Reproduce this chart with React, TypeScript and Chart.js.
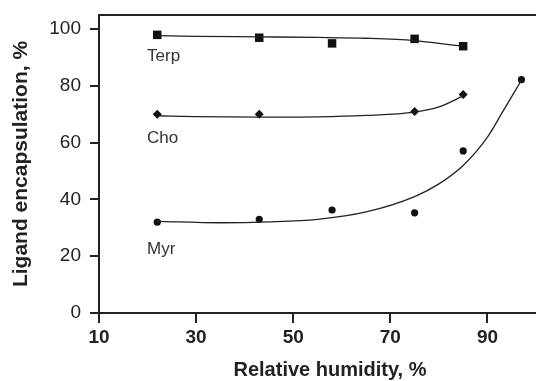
import React, { useEffect, useRef } from "react";
import { Chart, registerables } from "chart.js";

Chart.register(...registerables);

// Measured points
const terpX = [22, 43, 58, 75, 85];
const terpY = [98, 97, 95, 96.6, 94];
const choX = [22, 43, 75, 85];
const choY = [70, 70, 71, 77];
const myrX = [22, 43, 58, 75, 85, 97];
const myrY = [32, 33, 36.3, 35.3, 57.1, 82.2];

// Fitted curves
const terpFitX = [22, 30, 43, 55, 65, 75, 80, 85];
const terpFitY = [97.7, 97.5, 97.3, 97.1, 96.8, 96.0, 95.0, 94.0];
const choFitX = [22, 30, 43, 55, 65, 75, 80, 85];
const choFitY = [69.5, 69.2, 69.0, 69.1, 69.6, 70.8, 72.6, 76.5];
const myrFitX = [22, 35, 45, 55, 65, 75, 80, 85, 90, 93, 97];
const myrFitY = [32.3, 31.8, 32.1, 33, 35.6, 41, 45.5, 52, 62, 70.5, 82];

const xTicks = [10, 30, 50, 70, 90];
const yTicks = [0, 20, 40, 60, 80, 100];

const seriesNames = ["Terp", "Cho", "Myr"];
const nameAnchorX = [19.9, 19.9, 19.9];
const nameAnchorY = [90.5, 61.4, 22.4];

const xTitle = "Relative humidity, %";
const yTitle = "Ligand encapsulation, %";

const FONT = "'Liberation Sans', Arial, sans-serif";
const INK = "#222";

const zip = (xs: number[], ys: number[]) => xs.map((x, i) => ({ x, y: ys[i] }));

const framePlugin = {
  id: "frameAndNames",
  afterDraw(chart: any) {
    const { ctx, chartArea, scales } = chart;
    ctx.save();
    ctx.strokeStyle = INK;
    ctx.lineWidth = 2;
    ctx.beginPath();
    ctx.moveTo(chartArea.left - 1, chartArea.top);
    ctx.lineTo(chart.width, chartArea.top);
    ctx.stroke();
    ctx.fillStyle = "#333";
    ctx.font = `17px ${FONT}`;
    ctx.textAlign = "left";
    ctx.textBaseline = "middle";
    seriesNames.forEach((n, i) => {
      ctx.fillText(n, scales.x.getPixelForValue(nameAnchorX[i]), scales.y.getPixelForValue(nameAnchorY[i]));
    });
    ctx.fillStyle = INK;
    ctx.font = `bold 20px ${FONT}`;
    ctx.textAlign = "center";
    ctx.fillText(xTitle, 330, 370);
    ctx.restore();
  },
};

const zeroPad = (s: any) => {
  s.paddingTop = 0;
  s.paddingBottom = 0;
  s.paddingLeft = 0;
  s.paddingRight = 0;
};

export default function App() {
  const ref = useRef<HTMLCanvasElement>(null);
  useEffect(() => {
    document.body.style.margin = "0";
    document.body.style.overflow = "hidden";
    if (!ref.current) return;
    const lineDs = (xs: number[], ys: number[]) => ({
      type: "line" as const,
      data: zip(xs, ys),
      borderColor: INK,
      borderWidth: 1.3,
      pointRadius: 0,
      showLine: true,
      tension: 0.4,
      cubicInterpolationMode: "monotone" as const,
      fill: false,
    });
    const ptDs = (xs: number[], ys: number[], style: string, r: number) => ({
      type: "scatter" as const,
      data: zip(xs, ys),
      pointStyle: style,
      pointRadius: r,
      backgroundColor: "#111",
      borderColor: "#111",
      borderWidth: 0,
    });
    const chart = new Chart(ref.current, {
      type: "scatter",
      data: {
        datasets: [
          lineDs(terpFitX, terpFitY),
          lineDs(choFitX, choFitY),
          lineDs(myrFitX, myrFitY),
          ptDs(terpX, terpY, "rect", 6),
          ptDs(choX, choY, "rectRot", 4.5),
          ptDs(myrX, myrY, "circle", 3.6),
        ] as any,
      },
      options: {
        animation: false,
        responsive: false,
        layout: { autoPadding: false, padding: { top: 15, right: 0, left: 0, bottom: 0 } },
        plugins: { legend: { display: false }, tooltip: { enabled: false } },
        scales: {
          x: {
            type: "linear",
            min: 10,
            max: 100,
            afterFit: (s: any) => { s.height = 68; zeroPad(s); },
            afterBuildTicks: (s: any) => { s.ticks = xTicks.map((v) => ({ value: v })); },
            border: { color: INK, width: 2 },
            grid: { display: true, drawOnChartArea: false, drawTicks: true, tickLength: 10, color: INK, lineWidth: 2 },
            ticks: { color: INK, font: { family: FONT, size: 19, weight: "bold" }, padding: 3, maxRotation: 0 },
            title: { display: false },
          },
          y: {
            type: "linear",
            min: 0,
            max: 105,
            afterFit: (s: any) => { s.width = 99; zeroPad(s); },
            afterBuildTicks: (s: any) => { s.ticks = yTicks.map((v) => ({ value: v })); },
            border: { color: INK, width: 2 },
            grid: { display: true, drawOnChartArea: false, drawTicks: true, tickLength: 9, color: INK, lineWidth: 2 },
            ticks: { color: INK, font: { family: FONT, size: 19 }, padding: 9 },
            title: { display: true, text: yTitle, color: INK, font: { family: FONT, size: 21, weight: "bold" }, padding: { top: 9, bottom: 0 } },
          },
        },
      },
      plugins: [framePlugin],
    } as any);
    return () => chart.destroy();
  }, []);
  return (
    <div style={{ position: "fixed", left: 0, top: 0, width: 536, height: 381, overflow: "hidden", background: "#fff" }}>
      <canvas ref={ref} width={536} height={381} style={{ display: "block", width: 536, height: 381 }} />
    </div>
  );
}
